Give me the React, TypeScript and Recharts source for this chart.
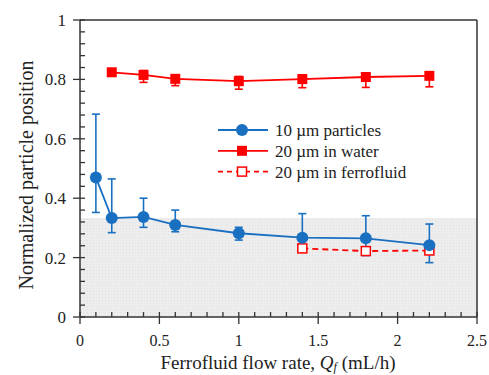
import {
  ComposedChart,
  Line,
  XAxis,
  YAxis,
  ErrorBar,
  ReferenceArea,
  ReferenceLine,
} from "recharts";

const FONT = "Liberation Serif, Times New Roman, serif";
const AXIS = "#333";
const BLUE = "#1a70c0";
const RED = "#ff0000";

// 10 um particles
const smallQ = [0.1, 0.2, 0.4, 0.6, 1.0, 1.4, 1.8, 2.2];
const smallPos = [0.47, 0.333, 0.337, 0.31, 0.282, 0.267, 0.265, 0.242];
const smallLow = [0.352, 0.284, 0.302, 0.287, 0.259, 0.235, 0.207, 0.183];
const smallHigh = [0.683, 0.465, 0.4, 0.36, 0.302, 0.348, 0.341, 0.313];

// 20 um in water
const waterQ = [0.2, 0.4, 0.6, 1.0, 1.4, 1.8, 2.2];
const waterPos = [0.824, 0.815, 0.802, 0.794, 0.801, 0.808, 0.812];
const waterLow = [0.824, 0.79, 0.779, 0.767, 0.772, 0.773, 0.775];
const waterHigh = [0.824, 0.83, 0.815, 0.81, 0.815, 0.82, 0.825];

// 20 um in ferrofluid
const ferroQ = [1.4, 1.8, 2.2];
const ferroPos = [0.231, 0.222, 0.224];

const xMajor = [0, 0.5, 1, 1.5, 2, 2.5];
const yMajor = [0, 0.2, 0.4, 0.6, 0.8, 1];
const xTicks = Array.from({ length: 26 }, (_, i) => +(i * 0.1).toFixed(2));
const yTicks = Array.from({ length: 26 }, (_, i) => +(i * 0.04).toFixed(2));
const shadeTop = 0.333;

const smallData = smallQ.map((q, i) => ({
  q,
  v: smallPos[i],
  err: [smallPos[i] - smallLow[i], smallHigh[i] - smallPos[i]],
}));
const waterData = waterQ.map((q, i) => ({
  q,
  v: waterPos[i],
  err: [waterPos[i] - waterLow[i], waterHigh[i] - waterPos[i]],
}));
const ferroData = ferroQ.map((q, i) => ({ q, v: ferroPos[i] }));

const isMajor = (v: number, list: number[]) => list.some((m) => Math.abs(m - v) < 1e-6);

const txt = { fontFamily: FONT };

function XTick(props: any) {
  const { x, y, payload } = props;
  const major = isMajor(payload.value, xMajor);
  return (
    <g>
      <line x1={x} x2={x} y1={y - 5} y2={major ? y + 7 : y} stroke={AXIS} strokeWidth={1.3} />
      {major && (
        <text x={x} y={y + 29} textAnchor="middle" style={txt} fontSize={16} fill="#222">
          {payload.value}
        </text>
      )}
    </g>
  );
}

function YTick(props: any) {
  const { x, y, payload } = props;
  const major = isMajor(payload.value, yMajor);
  return (
    <g>
      <line x1={major ? x - 7 : x} x2={x + 5} y1={y} y2={y} stroke={AXIS} strokeWidth={1.3} />
      {major && (
        <text x={x - 14} y={y + 6} textAnchor="end" style={txt} fontSize={17} fill="#222">
          {payload.value}
        </text>
      )}
    </g>
  );
}

const Circle = (props: any) => {
  const { cx, cy } = props;
  if (cx == null || cy == null) return null;
  return <circle cx={cx} cy={cy} r={6} fill={BLUE} />;
};
const Square = (props: any) => {
  const { cx, cy } = props;
  if (cx == null || cy == null) return null;
  return <rect x={cx - 5} y={cy - 5} width={10} height={10} fill={RED} />;
};
const OpenSquare = (props: any) => {
  const { cx, cy } = props;
  if (cx == null || cy == null) return null;
  return <rect x={cx - 4.5} y={cy - 4.5} width={9} height={9} fill="#fff" stroke={RED} strokeWidth={1.5} />;
};

const legendItems = [
  { label: "10 µm particles", color: BLUE, dash: undefined, kind: "circle" },
  { label: "20 µm in water", color: RED, dash: undefined, kind: "square" },
  { label: "20 µm in ferrofluid", color: RED, dash: "5 4", kind: "open" },
];

function LegendBox() {
  return (
    <svg width={200} height={70} style={{ position: "absolute", left: 210, top: 118 }}>
      {legendItems.map((it, i) => {
        const cy = 12 + i * 20.8;
        return (
          <g key={it.label}>
            <line x1={8} x2={58} y1={cy} y2={cy} stroke={it.color} strokeWidth={1.8} strokeDasharray={it.dash} />
            {it.kind === "circle" && <circle cx={32} cy={cy} r={6} fill={it.color} />}
            {it.kind === "square" && <rect x={27} y={cy - 5} width={10} height={10} fill={it.color} />}
            {it.kind === "open" && (
              <rect x={27.5} y={cy - 4.5} width={9} height={9} fill="#fff" stroke={it.color} strokeWidth={1.5} />
            )}
            <text x={65} y={cy + 6} style={txt} fontSize={17} fill="#222">
              {it.label}
            </text>
          </g>
        );
      })}
    </svg>
  );
}

export default function App() {
  return (
    <div style={{ position: "absolute", left: 0, top: 0, width: 489, height: 375, background: "#fff" }}>
      <ComposedChart width={489} height={375} margin={{ top: 20, right: 12, bottom: 0, left: 0 }}>
        <defs>
          <pattern id="dots" width={3} height={3} patternUnits="userSpaceOnUse">
            <rect width={3} height={3} fill="#ededed" />
            <rect width={1} height={1} fill="#e2e2e2" />
          </pattern>
        </defs>
        <XAxis
          type="number"
          dataKey="q"
          domain={[0, 2.5]}
          ticks={xTicks}
          interval={0}
          tick={<XTick />}
          tickLine={false}
          tickSize={0}
          tickMargin={0}
          height={58}
          stroke={AXIS}
          strokeWidth={1.5}
          allowDuplicatedCategory={false}
        />
        <YAxis
          type="number"
          domain={[0, 1]}
          ticks={yTicks}
          interval={0}
          tick={<YTick />}
          tickLine={false}
          tickSize={0}
          tickMargin={0}
          width={80}
          stroke={AXIS}
          strokeWidth={1.5}
        />
        <ReferenceArea x1={0} x2={2.5} y1={0} y2={shadeTop} fill="url(#dots)" fillOpacity={1} stroke="none" />
        <ReferenceLine y={1} stroke={AXIS} strokeWidth={1.5} />
        <ReferenceLine x={2.5} stroke={AXIS} strokeWidth={1.5} />
        <Line
          data={ferroData}
          dataKey="v"
          stroke={RED}
          strokeWidth={1.8}
          strokeDasharray="6 4"
          dot={<OpenSquare />}
          isAnimationActive={false}
        />
        <Line
          data={waterData}
          dataKey="v"
          stroke={RED}
          strokeWidth={1.8}
          dot={<Square />}
          isAnimationActive={false}
        >
          <ErrorBar dataKey="err" width={4} stroke={RED} strokeWidth={1.6} direction="y" />
        </Line>
        <Line
          data={smallData}
          dataKey="v"
          stroke={BLUE}
          strokeWidth={1.8}
          dot={<Circle />}
          isAnimationActive={false}
        >
          <ErrorBar dataKey="err" width={4} stroke={BLUE} strokeWidth={1.6} direction="y" />
        </Line>
        <text x={278} y={369} textAnchor="middle" style={txt} fontSize={19} fill="#222">
          Ferrofluid flow rate, <tspan fontStyle="italic">Q</tspan>
          <tspan fontStyle="italic" fontSize={12} dy={2}>f</tspan>
          <tspan dy={-2}> (mL/h)</tspan>
        </text>
        <text
          x={0}
          y={0}
          transform="translate(33,175) rotate(-90)"
          textAnchor="middle"
          style={txt}
          fontSize={20}
          fill="#222"
        >
          Normalized particle position
        </text>
      </ComposedChart>
      <LegendBox />
    </div>
  );
}
